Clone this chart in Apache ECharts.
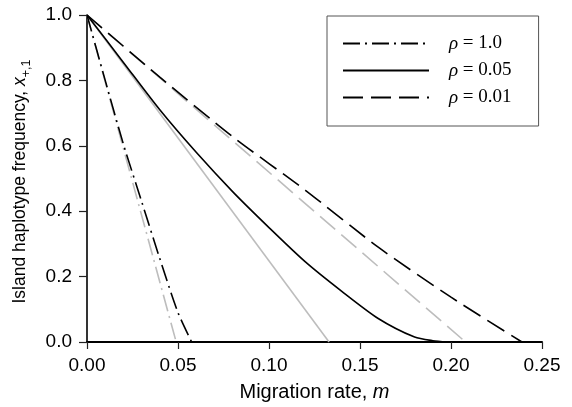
<!DOCTYPE html>
<html>
<head>
<meta charset="utf-8">
<title>Island haplotype frequency vs migration rate</title>
<script src="https://cdn.jsdelivr.net/npm/echarts@6/dist/echarts.min.js"></script>
<style>
  html, body { margin: 0; padding: 0; background: #fff; }
  #main { width: 572px; height: 407px; }
</style>
</head>
<body>
<div id="main"></div>
<script>
// values: [migration rate m, island frequency]
var rho10 = [[0, 1], [0.01, 0.80], [0.02, 0.605], [0.03, 0.43], [0.04, 0.255], [0.05, 0.09], [0.0575, 0]];
var rho005 = [[0, 1], [0.02, 0.855], [0.04, 0.71], [0.06, 0.58], [0.08, 0.46], [0.10, 0.35],
              [0.12, 0.245], [0.14, 0.155], [0.16, 0.072], [0.18, 0.015], [0.19, 0.004], [0.198, 0]];
var rho001 = [[0, 1], [0.04, 0.81], [0.08, 0.628], [0.12, 0.464], [0.16, 0.29], [0.20, 0.137], [0.239, 0]];
// grey reference lines
var approx10 = [[0, 1], [0.049, 0]];
var approx005 = [[0, 1], [0.133, 0]];
var approx001 = [[0, 1], [0.208, 0]];

var xTicks = [0, 0.05, 0.10, 0.15, 0.20, 0.25];
var yTicks = [0, 0.2, 0.4, 0.6, 0.8, 1.0];
var legendNames = ['ρ = 1.0', 'ρ = 0.05', 'ρ = 0.01'];

var dashDot = [17, 5, 2, 5];
var dashed = [20, 8];
var grey = '#bdbdbd';
var sans = 'Liberation Sans, Arial, sans-serif';

function line(name, data, color, type, z) {
  return {
    name: name, type: 'line', data: data, symbol: 'none', z: z,
    smooth: color === grey ? false : 0.25,
    silent: true, animation: false,
    itemStyle: { color: color },
    lineStyle: { color: color, width: 1.6, type: type }
  };
}

var chart = echarts.init(document.getElementById('main'));
chart.setOption({
  animation: false,
  grid: { left: 87, right: 30, top: 15, bottom: 64 },
  legend: {
    data: legendNames,
    orient: 'vertical',
    left: 327, top: 16,
    padding: [18, 27, 19, 15],
    itemGap: 8,
    itemWidth: 86, itemHeight: 20,
    borderColor: '#555', borderWidth: 1,
    selectedMode: false,
    itemStyle: { opacity: 0 },
    formatter: function (n) { return '{i|ρ} = ' + n.split('= ')[1]; },
    textStyle: {
      fontFamily: 'Liberation Serif, Times New Roman, serif',
      fontSize: 19, color: '#000', padding: [0, 0, 0, 15],
      rich: { i: { fontStyle: 'italic', fontFamily: 'Liberation Serif, serif', fontSize: 19, color: '#000' } }
    }
  },
  xAxis: {
    type: 'value', min: 0, max: 0.25, interval: 0.05,
    name: '{n|Migration rate, }{i|m}',
    nameLocation: 'middle', nameGap: 40,
    nameTextStyle: {
      rich: {
        n: { fontFamily: sans, fontSize: 20, color: '#000' },
        i: { fontFamily: sans, fontSize: 20, fontStyle: 'italic', color: '#000' }
      }
    },
    axisLine: { lineStyle: { color: '#000', width: 2 } },
    axisTick: { length: 7, lineStyle: { color: '#222', width: 1.2 } },
    axisLabel: {
      margin: 14, fontFamily: sans, fontSize: 19, color: '#000',
      formatter: function (v) { return v.toFixed(2); }
    },
    splitLine: { show: false }
  },
  yAxis: {
    type: 'value', min: 0, max: 1, interval: 0.2,
    name: '{n|Island haplotype frequency, }{i|x}{s|+,1}',
    nameLocation: 'middle', nameGap: 54,
    nameTextStyle: {
      padding: [0, 6, 0, 0],
      rich: {
        n: { fontFamily: sans, fontSize: 17.5, color: '#000', lineHeight: 25 },
        i: { fontFamily: sans, fontSize: 17.5, fontStyle: 'italic', color: '#000', lineHeight: 25 },
        s: { fontFamily: sans, fontSize: 12.5, color: '#000', verticalAlign: 'bottom', lineHeight: 25 }
      }
    },
    axisLine: { lineStyle: { color: '#000', width: 1.6 } },
    axisTick: { length: 8, lineStyle: { color: '#222', width: 1.2 } },
    axisLabel: {
      margin: 15, fontFamily: sans, fontSize: 19, color: '#000',
      formatter: function (v) { return v.toFixed(1); }
    },
    splitLine: { show: false }
  },
  series: [
    line('g1', approx10, grey, dashDot, 1),
    line('g2', approx005, grey, 'solid', 1),
    line('g3', approx001, grey, dashed, 1),
    line(legendNames[0], rho10, '#000', dashDot, 2),
    line(legendNames[1], rho005, '#000', 'solid', 2),
    line(legendNames[2], rho001, '#000', dashed, 2)
  ]
});
</script>
</body>
</html>
